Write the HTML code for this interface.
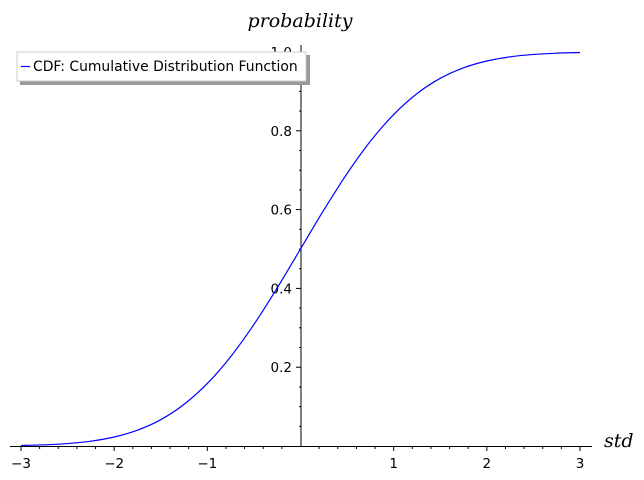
<!DOCTYPE html>
<html><head><meta charset="utf-8"><style>
html,body{margin:0;padding:0;background:#fff;width:644px;height:480px;overflow:hidden}
svg text{font-family:"DejaVu Sans","Liberation Sans",sans-serif;font-size:13.5px;fill:#000}
.it{font-family:"DejaVu Serif","Liberation Serif",serif;font-style:italic;font-size:19px}
.lg{font-size:13.9px}
</style></head><body>
<svg id="chart" width="644" height="480" xmlns="http://www.w3.org/2000/svg">
<g id="axes"></g>
<path id="curve" fill="none" stroke="#0000ff" stroke-width="1.2"/>
<text class="it" x="300" y="27" text-anchor="middle">probability</text>
<text class="it" x="604" y="447">std</text>
<g>
<rect x="20" y="55" width="290" height="30" fill="#999"/>
<rect x="17" y="52" width="289" height="29" fill="#fff" stroke="#ccc"/>
<line x1="21" y1="66.5" x2="30" y2="66.5" stroke="#0000ff" stroke-width="1.2"/>
<text class="lg" x="33" y="71">CDF: Cumulative Distribution Function</text>
</g>
</svg>
<script>
const xs = [-3,-2.75,-2.5,-2.25,-2,-1.75,-1.5,-1.25,-1,-0.75,-0.5,-0.25,0,0.25,0.5,0.75,1,1.25,1.5,1.75,2,2.25,2.5,2.75,3];
const ys = [0.0013,0.003,0.0062,0.0122,0.0228,0.0401,0.0668,0.1056,0.1587,0.2266,0.3085,0.4013,0.5,0.5987,0.6915,0.7734,0.8413,0.8944,0.9332,0.9599,0.9772,0.9878,0.9938,0.997,0.9987];
const xTicks = [-3,-2,-1,1,2,3];
const xTickLabels = ["\u22123","\u22122","\u22121","1","2","3"];
const yTicks = [0.2,0.4,0.6,0.8,1.0];
const yTickLabels = ["0.2","0.4","0.6","0.8","1.0"];
const X = v => 300.5 + v*93.17;
const Y = v => 446 - v*394;
const NS = "http://www.w3.org/2000/svg";
const ax = document.getElementById('axes');
function ln(x1,y1,x2,y2,name){const l=document.createElementNS(NS,'line');
l.setAttribute('x1',x1);l.setAttribute('y1',y1);l.setAttribute('x2',x2);l.setAttribute('y2',y2);
l.setAttribute('stroke','#000');l.setAttribute('stroke-width','1');


ax.appendChild(l);return l;}
function tx(x,y,s,anchor,name){const t=document.createElementNS(NS,'text');
t.setAttribute('x',x);t.setAttribute('y',y);t.setAttribute('text-anchor',anchor);t.textContent=s;


ax.appendChild(t);}
ln(10,446.5,592,446.5,'x-axis');
ln(301,45,301,446.5,'y-axis');
for(let i=-15;i<=15;i++){const v=i*0.2;if(i%5===0)continue;ln(X(v),446.5,X(v),449,'x-minor-tick');}
xTicks.forEach((v,i)=>{ln(X(v),446.5,X(v),451,'x-tick');tx(X(v),468,xTickLabels[i],'middle','x-tick-label');});
for(let i=1;i<=20;i++){const v=i*0.05;if(i%4===0)continue;ln(299,Y(v),301,Y(v),'y-minor-tick');}
yTicks.forEach((v,i)=>{ln(296,Y(v),301,Y(v),'y-tick');tx(292,Y(v)+5,yTickLabels[i],'end','y-tick-label');});
const P=xs.map((x,i)=>[X(x),Y(ys[i])]);
let d='M'+P[0][0]+','+P[0][1];
for(let i=0;i<P.length-1;i++){const p0=P[Math.max(0,i-1)],p1=P[i],p2=P[i+1],p3=P[Math.min(P.length-1,i+2)];
d+=' C'+(p1[0]+(p2[0]-p0[0])/6)+','+(p1[1]+(p2[1]-p0[1])/6)+' '+(p2[0]-(p3[0]-p1[0])/6)+','+(p2[1]-(p3[1]-p1[1])/6)+' '+p2[0]+','+p2[1];}
document.getElementById('curve').setAttribute('d',d);
</script>
</body></html>
